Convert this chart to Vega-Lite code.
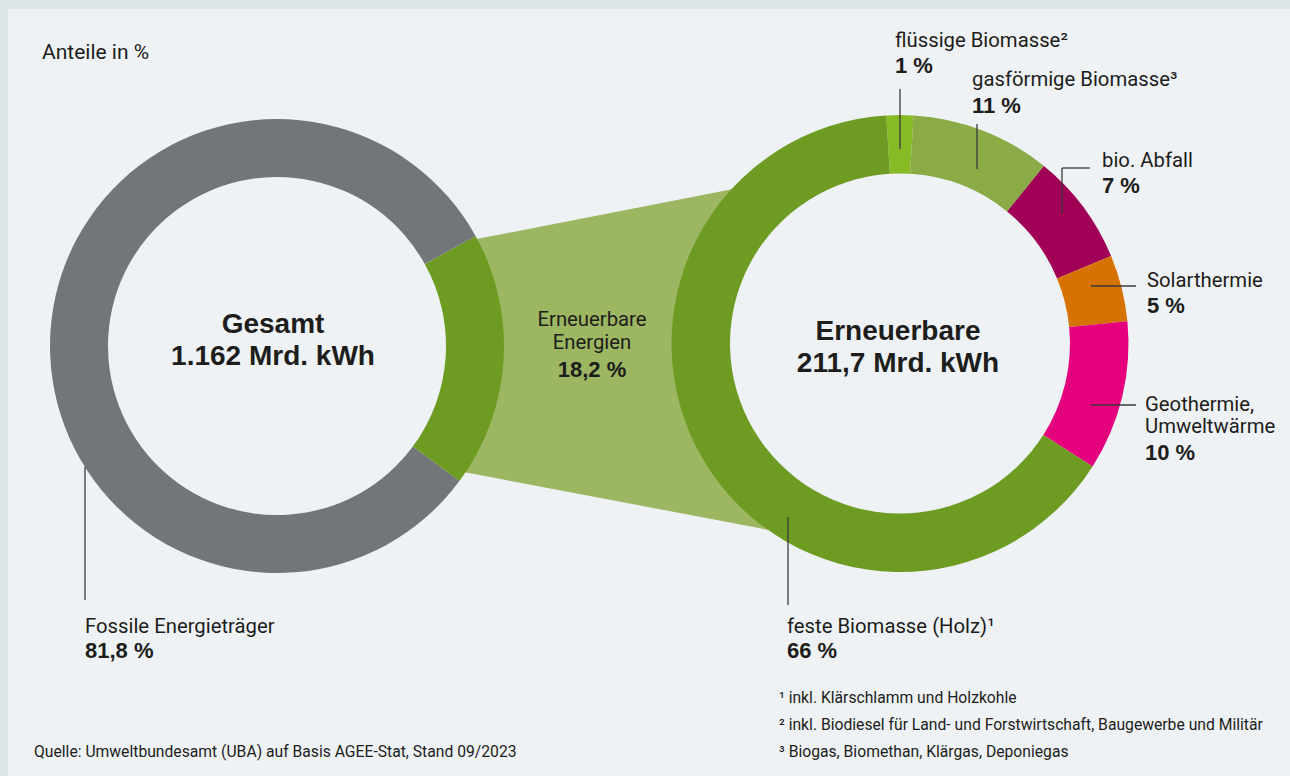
{
  "$schema": "https://vega.github.io/schema/vega-lite/v6.json",
  "width": 1282,
  "height": 767,
  "autosize": {"type": "none"},
  "padding": {"left": 8, "top": 9, "right": 0, "bottom": 0},
  "background": "#dde4e8",
  "config": {
    "view": {"stroke": null, "fill": "#eef2f5"},
    "text": {"color": "#1d1d1b"}
  },
  "datasets": {
    "connector": [
      {"px": 465, "top": 241.3, "bottom": 472.2},
      {"px": 820, "top": 172.1, "bottom": 539.7}
    ],
    "hole": [{"cx": 900, "cy": 343.5}],
    "gesamt": [
      {"part": "Erneuerbare Energien", "value": 18.2, "order": 1, "cx": 277, "cy": 346},
      {"part": "Fossile Energieträger", "value": 81.8, "order": 2, "cx": 277, "cy": 346}
    ],
    "erneuerbare": [
      {"part": "flüssige Biomasse", "value": 1.9, "order": 1, "cx": 900, "cy": 343.5},
      {"part": "gasförmige Biomasse", "value": 9.9, "order": 2, "cx": 900, "cy": 343.5},
      {"part": "bio. Abfall", "value": 7.9, "order": 3, "cx": 900, "cy": 343.5},
      {"part": "Solarthermie", "value": 4.7, "order": 4, "cx": 900, "cy": 343.5},
      {"part": "Geothermie, Umweltwärme", "value": 10.6, "order": 5, "cx": 900, "cy": 343.5},
      {"part": "feste Biomasse (Holz)", "value": 65.0, "order": 6, "cx": 900, "cy": 343.5}
    ],
    "leaders": [
      {"x1": 85, "y1": 467, "x2": 85, "y2": 600},
      {"x1": 900, "y1": 89, "x2": 900, "y2": 149},
      {"x1": 977, "y1": 124, "x2": 977, "y2": 169},
      {"x1": 1090, "y1": 168, "x2": 1062, "y2": 168},
      {"x1": 1062, "y1": 168, "x2": 1062, "y2": 213},
      {"x1": 1091, "y1": 286, "x2": 1136, "y2": 286},
      {"x1": 1091, "y1": 405, "x2": 1136, "y2": 405},
      {"x1": 788, "y1": 517, "x2": 788, "y2": 605}
    ],
    "labels": [
      {"name": ["Fossile Energieträger"], "pct": "81,8 %", "lx": 85, "ly": 633, "py": 658},
      {"name": ["flüssige Biomasse²"], "pct": "1 %", "lx": 895, "ly": 47, "py": 73},
      {"name": ["gasförmige Biomasse³"], "pct": "11 %", "lx": 972, "ly": 86, "py": 113},
      {"name": ["bio. Abfall"], "pct": "7 %", "lx": 1102, "ly": 167, "py": 193},
      {"name": ["Solarthermie"], "pct": "5 %", "lx": 1147, "ly": 287, "py": 313},
      {"name": ["Geothermie,", "Umweltwärme"], "pct": "10 %", "lx": 1145, "ly": 411, "py": 460},
      {"name": ["feste Biomasse (Holz)¹"], "pct": "66 %", "lx": 787, "ly": 633, "py": 658}
    ],
    "mid": [
      {"name": ["Erneuerbare", "Energien"], "pct": "18,2 %", "lx": 592, "ly": 326, "py": 377}
    ],
    "centers": [
      {"t": "Gesamt", "x": 273, "y": 333},
      {"t": "1.162 Mrd. kWh", "x": 273, "y": 365},
      {"t": "Erneuerbare", "x": 898, "y": 340},
      {"t": "211,7 Mrd. kWh", "x": 898, "y": 372}
    ],
    "heading": [{"t": "Anteile in %", "x": 42, "y": 59}],
    "notes": [
      {"t": "¹ inkl. Klärschlamm und Holzkohle", "x": 779, "y": 703},
      {"t": "² inkl. Biodiesel für Land- und Forstwirtschaft, Baugewerbe und Militär", "x": 779, "y": 730},
      {"t": "³ Biogas, Biomethan, Klärgas, Deponiegas", "x": 779, "y": 757},
      {"t": "Quelle: Umweltbundesamt (UBA) auf Basis AGEE-Stat, Stand 09/2023", "x": 34, "y": 757}
    ]
  },
  "layer": [
    {
      "data": {"name": "connector"},
      "mark": {"type": "area", "color": "#9cb662"},
      "encoding": {
        "x": {"field": "px", "type": "quantitative", "scale": {"domain": [8, 1290], "nice": false, "zero": false}, "axis": null},
        "y": {"field": "top", "type": "quantitative", "scale": {"domain": [9, 776], "reverse": true, "nice": false, "zero": false}, "axis": null},
        "y2": {"field": "bottom"}
      }
    },
    {
      "data": {"name": "hole"},
      "mark": {"type": "arc", "theta": 0, "theta2": 6.2832, "outerRadius": 172, "innerRadius": 0, "color": "#eef2f5"},
      "encoding": {
        "x": {"field": "cx", "type": "quantitative"},
        "y": {"field": "cy", "type": "quantitative"}
      }
    },
    {
      "data": {"name": "gesamt"},
      "mark": {"type": "arc", "outerRadius": 227, "innerRadius": 169},
      "encoding": {
        "x": {"field": "cx", "type": "quantitative"},
        "y": {"field": "cy", "type": "quantitative"},
        "theta": {"field": "value", "type": "quantitative", "stack": true, "scale": {"domain": [0, 100], "range": [1.0647, 7.3479]}},
        "order": {"field": "order"},
        "color": {
          "field": "part", "type": "nominal", "legend": null,
          "scale": {
            "domain": ["Erneuerbare Energien", "Fossile Energieträger", "flüssige Biomasse", "gasförmige Biomasse", "bio. Abfall", "Solarthermie", "Geothermie, Umweltwärme", "feste Biomasse (Holz)"],
            "range": ["#6e9b21", "#737679", "#86bb26", "#8aab46", "#a00055", "#d57200", "#e5007d", "#6e9b21"]
          }
        }
      }
    },
    {
      "data": {"name": "erneuerbare"},
      "mark": {"type": "arc", "outerRadius": 228.5, "innerRadius": 170},
      "encoding": {
        "x": {"field": "cx", "type": "quantitative"},
        "y": {"field": "cy", "type": "quantitative"},
        "theta": {"field": "value", "type": "quantitative", "stack": true, "scale": {"domain": [0, 100], "range": [-0.06, 6.2232]}},
        "order": {"field": "order"},
        "color": {"field": "part", "type": "nominal", "legend": null}
      }
    },
    {
      "data": {"name": "leaders"},
      "mark": {"type": "rule", "color": "#3a3a3a", "strokeWidth": 1.3},
      "encoding": {
        "x": {"field": "x1", "type": "quantitative"},
        "y": {"field": "y1", "type": "quantitative"},
        "x2": {"field": "x2"},
        "y2": {"field": "y2"}
      }
    },
    {
      "data": {"name": "labels"},
      "mark": {"type": "text", "font": "Roboto", "fontSize": 20.3, "align": "left", "baseline": "alphabetic", "lineHeight": 22},
      "encoding": {
        "x": {"field": "lx", "type": "quantitative"},
        "y": {"field": "ly", "type": "quantitative"},
        "text": {"field": "name"}
      }
    },
    {
      "data": {"name": "labels"},
      "mark": {"type": "text", "font": "Liberation Sans", "fontWeight": "bold", "fontSize": 22, "align": "left", "baseline": "alphabetic"},
      "encoding": {
        "x": {"field": "lx", "type": "quantitative"},
        "y": {"field": "py", "type": "quantitative"},
        "text": {"field": "pct"}
      }
    },
    {
      "data": {"name": "mid"},
      "mark": {"type": "text", "font": "Roboto", "fontSize": 20.3, "align": "center", "baseline": "alphabetic", "lineHeight": 23},
      "encoding": {
        "x": {"field": "lx", "type": "quantitative"},
        "y": {"field": "ly", "type": "quantitative"},
        "text": {"field": "name"}
      }
    },
    {
      "data": {"name": "mid"},
      "mark": {"type": "text", "font": "Liberation Sans", "fontWeight": "bold", "fontSize": 22, "align": "center", "baseline": "alphabetic"},
      "encoding": {
        "x": {"field": "lx", "type": "quantitative"},
        "y": {"field": "py", "type": "quantitative"},
        "text": {"field": "pct"}
      }
    },
    {
      "data": {"name": "centers"},
      "mark": {"type": "text", "font": "Liberation Sans", "fontWeight": "bold", "fontSize": 28, "align": "center", "baseline": "alphabetic"},
      "encoding": {
        "x": {"field": "x", "type": "quantitative"},
        "y": {"field": "y", "type": "quantitative"},
        "text": {"field": "t"}
      }
    },
    {
      "data": {"name": "heading"},
      "mark": {"type": "text", "font": "Roboto", "fontSize": 21, "align": "left", "baseline": "alphabetic"},
      "encoding": {
        "x": {"field": "x", "type": "quantitative"},
        "y": {"field": "y", "type": "quantitative"},
        "text": {"field": "t"}
      }
    },
    {
      "data": {"name": "notes"},
      "mark": {"type": "text", "font": "Roboto", "fontSize": 15.7, "align": "left", "baseline": "alphabetic"},
      "encoding": {
        "x": {"field": "x", "type": "quantitative"},
        "y": {"field": "y", "type": "quantitative"},
        "text": {"field": "t"}
      }
    }
  ],
  "resolve": {"scale": {"theta": "independent"}}
}
